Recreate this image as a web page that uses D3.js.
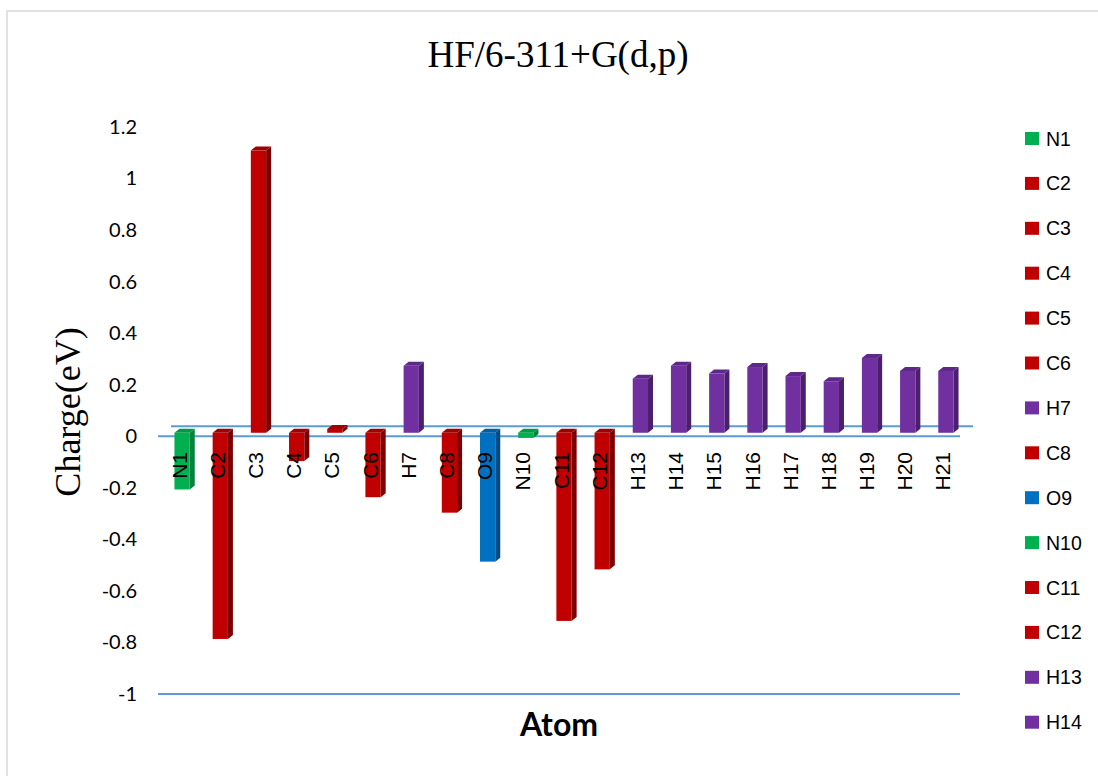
<!DOCTYPE html>
<html>
<head>
<meta charset="utf-8">
<script src="https://cdn.jsdelivr.net/npm/d3@7"></script>
<style>
  html, body { margin: 0; padding: 0; background: #fff; }
  svg { display: block; }
</style>
</head>
<body>
<div id="chart"></div>
<script>
const atoms = ["N1", "C2", "C3", "C4", "C5", "C6", "H7", "C8", "O9", "N10", "C11",
  "C12", "H13", "H14", "H15", "H16", "H17", "H18", "H19", "H20", "H21"];
const charges = [-0.22, -0.80, 1.095, -0.11, 0.015, -0.25, 0.26, -0.31, -0.50, -0.02, -0.73,
  -0.53, 0.21, 0.26, 0.23, 0.255, 0.22, 0.20, 0.29, 0.24, 0.24];
const yTicks = [1.2, 1, 0.8, 0.6, 0.4, 0.2, 0, -0.2, -0.4, -0.6, -0.8, -1];
const legendAtoms = atoms.slice(0, 14);

const width = 1098,
  height = 776;

// element -> colours (front, side, top)
const elements = ["N", "C", "H", "O"];
const frontColor = d3.scaleOrdinal(elements, ["#00b050", "#c00000", "#7030a0", "#0070c0"]);
const sideColor = d3.scaleOrdinal(elements, ["#00843c", "#7d0000", "#4b1f6d", "#004d86"]);
const topColor = d3.scaleOrdinal(elements, ["#009a46", "#a00000", "#5e2888", "#005ea3"]);
const elem = (a) => a.replace(/[0-9]/g, "");

const svg = d3
  .select("#chart")
  .append("svg")
  .attr("width", width)
  .attr("height", height);

// chart border
svg
  .append("rect")
  .attr("x", 7)
  .attr("y", 11)
  .attr("width", width + 20)
  .attr("height", height + 20)
  .attr("fill", "#fff")
  .attr("stroke", "#d9d9d9")
  .attr("stroke-width", 1.5);

const x = d3.scaleBand().domain(atoms).range([158, 960]);
const y = d3.scaleLinear().domain([-1, 1.2]).range([694, 127]);

// wall offset (back plane) and bar plane offset
const back = { dx: 13, dy: -10 };
const mid = { dx: 5, dy: -3.5 };
const depth = { dx: 5, dy: -4 };

// gridlines: zero on back and front, -1 on front
svg
  .append("line")
  .attr("x1", x.range()[0] + back.dx)
  .attr("x2", x.range()[1] + back.dx)
  .attr("y1", y(0) + back.dy)
  .attr("y2", y(0) + back.dy)
  .attr("stroke", "#5b9bd5")
  .attr("stroke-width", 2);

svg
  .append("g")
  .selectAll("line")
  .data([0, -1])
  .join("line")
  .attr("x1", x.range()[0])
  .attr("x2", x.range()[1])
  .attr("y1", (d) => y(d))
  .attr("y2", (d) => y(d))
  .attr("stroke", "#5b9bd5")
  .attr("stroke-width", 2);

// y tick labels
const yAxis = svg
  .append("g")
  .attr("transform", "translate(137,0)")
  .call(
    d3
      .axisLeft(y)
      .tickValues(yTicks)
      .tickSize(0)
      .tickPadding(0)
      .tickFormat((d) => String(+d.toFixed(1)))
  );
yAxis.select(".domain").remove();
yAxis
  .selectAll("text")
  .attr("font-family", "Lato, sans-serif")
  .attr("font-size", 20)
  .attr("fill", "#000");

// bars (pseudo 3D)
const barW = x.bandwidth() * 0.4;
const bars = svg
  .append("g")
  .selectAll("g")
  .data(atoms.map((a, i) => ({ atom: a, value: charges[i] })))
  .join("g");

bars.each(function (d) {
  const g = d3.select(this);
  const x0 = x(d.atom) + (x.bandwidth() - barW) / 2 + mid.dx;
  const x1 = x0 + barW;
  const yv = y(d.value) + mid.dy;
  const yz = y(0) + mid.dy;
  const y0 = Math.min(yv, yz);
  const y1 = Math.max(yv, yz);
  const e = elem(d.atom);
  g.append("polygon")
    .attr("points", [[x1, y0], [x1 + depth.dx, y0 + depth.dy], [x1 + depth.dx, y1 + depth.dy], [x1, y1]].join(" "))
    .attr("fill", sideColor(e));
  g.append("polygon")
    .attr("points", [[x0, y0], [x0 + depth.dx, y0 + depth.dy], [x1 + depth.dx, y0 + depth.dy], [x1, y0]].join(" "))
    .attr("fill", topColor(e));
  g.append("rect")
    .attr("x", x0)
    .attr("y", y0)
    .attr("width", barW)
    .attr("height", Math.max(0.5, y1 - y0))
    .attr("fill", frontColor(e));
});

// category labels
svg
  .append("g")
  .selectAll("text")
  .data(atoms)
  .join("text")
  .attr("transform", (d) => `translate(${x(d) + x.bandwidth() / 2 + 2},452) rotate(-90)`)
  .attr("text-anchor", "end")
  .attr("dy", "0.36em")
  .attr("font-family", "'Liberation Sans', Arial, sans-serif")
  .attr("font-size", 21)
  .attr("fill", "#000")
  .text((d) => d);

// title
svg
  .append("text")
  .attr("x", 558)
  .attr("y", 67)
  .attr("text-anchor", "middle")
  .attr("font-family", "'Liberation Serif', 'Times New Roman', serif")
  .attr("font-size", 37)
  .attr("fill", "#000")
  .text("HF/6-311+G(d,p)");

// axis titles
svg
  .append("text")
  .attr("transform", "translate(80,412) rotate(-90)")
  .attr("text-anchor", "middle")
  .attr("font-family", "'Liberation Serif', 'Times New Roman', serif")
  .attr("font-size", 36)
  .attr("fill", "#000")
  .text("Charge(eV)");

svg
  .append("text")
  .attr("x", 559)
  .attr("y", 736)
  .attr("text-anchor", "middle")
  .attr("font-family", "Lato, sans-serif")
  .attr("font-weight", "bold")
  .attr("font-size", 32)
  .attr("fill", "#000")
  .text("Atom");

// legend
const legend = svg
  .append("g")
  .selectAll("g")
  .data(legendAtoms)
  .join("g")
  .attr("transform", (d, i) => `translate(1025,${138.5 + i * 44.9})`);

legend
  .append("rect")
  .attr("x", 0)
  .attr("y", -6.5)
  .attr("width", 14)
  .attr("height", 13)
  .attr("fill", (d) => frontColor(elem(d)));

legend
  .append("text")
  .attr("x", 21)
  .attr("y", 7)
  .attr("font-family", "'Liberation Sans', Arial, sans-serif")
  .attr("font-size", 19.5)
  .attr("fill", "#000")
  .text((d) => d);
</script>
</body>
</html>
